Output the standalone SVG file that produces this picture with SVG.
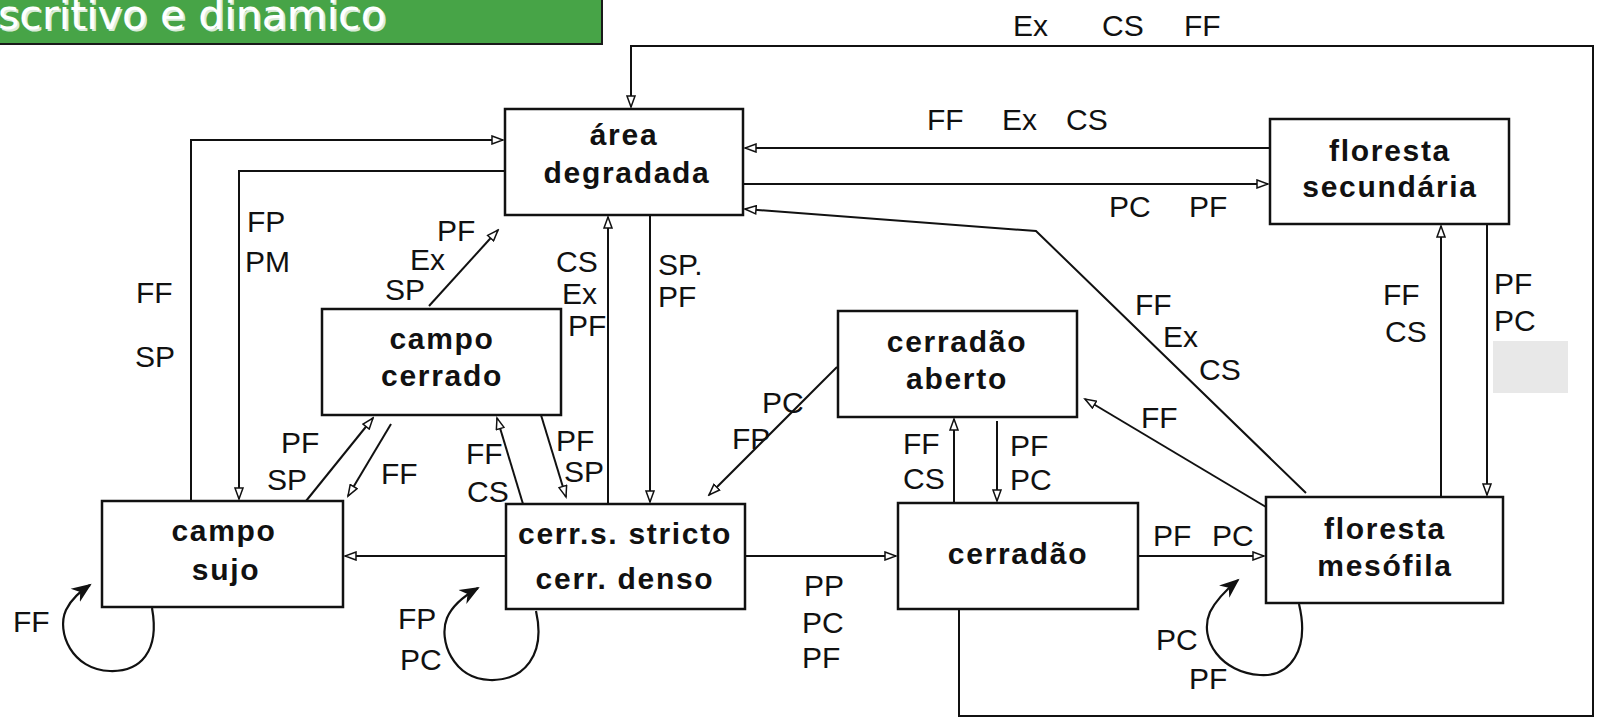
<svg xmlns="http://www.w3.org/2000/svg" width="1600" height="718" viewBox="0 0 1600 718">
<defs>
<style>
.node rect{fill:#fff;stroke:#111;stroke-width:2.5}
.nt{font-family:"Liberation Sans",Arial,sans-serif;font-weight:bold;font-size:30px;letter-spacing:1.7px;fill:#111;text-anchor:middle}
.lb{font-family:"Liberation Sans",Arial,sans-serif;font-size:30px;fill:#111}
.c{fill:none;stroke:#111;stroke-width:2}
.a{marker-end:url(#ar)}
.lp{fill:none;stroke:#111;stroke-width:2.2;marker-end:url(#big)}
.title{font-family:"DejaVu Sans",Verdana,sans-serif;font-size:41px;fill:#fff}
</style>
<marker id="ar" markerUnits="userSpaceOnUse" markerWidth="14" markerHeight="10" refX="12" refY="5" orient="auto">
<path d="M1,1 L12,5 L1,9 z" fill="#fff" stroke="#111" stroke-width="1.5"/>
</marker>
<marker id="big" markerUnits="userSpaceOnUse" markerWidth="22" markerHeight="20" refX="18" refY="10" orient="auto">
<path d="M0,2 L20,10 L0,18 L6,10 z" fill="#111"/>
</marker>
</defs>
<rect width="1600" height="718" fill="#fff"/>
<g id="title">
<rect x="-3" y="-3" width="605" height="47" fill="#47a447" stroke="#1a1a1a" stroke-width="2"/>
<text class="title" x="-2" y="29" fill="#333" opacity="0.8" transform="translate(2,2)">scritivo e dinamico</text>
<text class="title" x="-2" y="29">scritivo e dinamico</text>
</g>
<rect id="gray-patch" x="1493" y="341" width="75" height="52" fill="#e8e8e8"/>
<g id="connectors">
<polyline class="c a" points="959,609 959,716 1593,716 1593,46 631,46 631,107"/>
<polyline class="c a" points="191,501 191,140 503,140"/>
<polyline class="c a" points="505,171 239,171 239,499"/>
<line class="c a" x1="429" y1="306" x2="498" y2="230"/>
<line class="c a" x1="608" y1="504" x2="608" y2="217"/>
<line class="c a" x1="650" y1="215" x2="650" y2="502"/>
<line class="c a" x1="1270" y1="148" x2="745" y2="148"/>
<line class="c a" x1="743" y1="184" x2="1268" y2="184"/>
<polyline class="c a" points="1306,493 1036,231 745,209"/>
<line class="c a" x1="1441" y1="497" x2="1441" y2="226"/>
<line class="c a" x1="1487" y1="224" x2="1487" y2="495"/>
<line class="c a" x1="306" y1="501" x2="373" y2="418"/>
<line class="c a" x1="391" y1="424" x2="348" y2="496"/>
<line class="c a" x1="523" y1="504" x2="497" y2="418"/>
<line class="c a" x1="541" y1="415" x2="566" y2="497"/>
<line class="c a" x1="837" y1="367" x2="709" y2="495"/>
<line class="c a" x1="1266" y1="507" x2="1085" y2="399"/>
<line class="c a" x1="954" y1="503" x2="954" y2="419"/>
<line class="c a" x1="997" y1="421" x2="997" y2="501"/>
<line class="c a" x1="506" y1="556" x2="345" y2="556"/>
<line class="c a" x1="745" y1="556" x2="896" y2="556"/>
<line class="c a" x1="1138" y1="556" x2="1264" y2="556"/>
<path class="lp" d="M152,608 C160,652 140,672 110,671 C72,670 56,632 66,610 C72,598 80,592 90,585"/>
<path class="lp" d="M536,611 C546,655 524,681 490,680 C453,679 438,640 447,618 C452,606 464,596 478,588"/>
<path class="lp" d="M1299,604 C1310,650 1290,677 1260,675 C1222,673 1198,640 1210,612 C1216,600 1226,590 1238,580"/>
</g>
<g id="labels">
<text class="lb" x="1013" y="36">Ex</text>
<text class="lb" x="1102" y="36">CS</text>
<text class="lb" x="1184" y="36">FF</text>
<text class="lb" x="927" y="130">FF</text>
<text class="lb" x="1002" y="130">Ex</text>
<text class="lb" x="1066" y="130">CS</text>
<text class="lb" x="1109" y="217">PC</text>
<text class="lb" x="1189" y="217">PF</text>
<text class="lb" x="247" y="232">FP</text>
<text class="lb" x="245" y="272">PM</text>
<text class="lb" x="136" y="303">FF</text>
<text class="lb" x="135" y="367">SP</text>
<text class="lb" x="437" y="241">PF</text>
<text class="lb" x="410" y="270">Ex</text>
<text class="lb" x="385" y="300">SP</text>
<text class="lb" x="556" y="272">CS</text>
<text class="lb" x="562" y="304">Ex</text>
<text class="lb" x="568" y="336">PF</text>
<text class="lb" x="658" y="275">SP.</text>
<text class="lb" x="658" y="307">PF</text>
<text class="lb" x="1135" y="315">FF</text>
<text class="lb" x="1163" y="347">Ex</text>
<text class="lb" x="1199" y="380">CS</text>
<text class="lb" x="1383" y="305">FF</text>
<text class="lb" x="1385" y="342">CS</text>
<text class="lb" x="1494" y="294">PF</text>
<text class="lb" x="1494" y="331">PC</text>
<text class="lb" x="762" y="413">PC</text>
<text class="lb" x="732" y="449">FP</text>
<text class="lb" x="1141" y="428">FF</text>
<text class="lb" x="903" y="454">FF</text>
<text class="lb" x="903" y="489">CS</text>
<text class="lb" x="1010" y="456">PF</text>
<text class="lb" x="1010" y="490">PC</text>
<text class="lb" x="281" y="453">PF</text>
<text class="lb" x="267" y="490">SP</text>
<text class="lb" x="381" y="484">FF</text>
<text class="lb" x="466" y="464">FF</text>
<text class="lb" x="467" y="502">CS</text>
<text class="lb" x="556" y="451">PF</text>
<text class="lb" x="564" y="482">SP</text>
<text class="lb" x="1153" y="546">PF</text>
<text class="lb" x="1212" y="546">PC</text>
<text class="lb" x="804" y="596">PP</text>
<text class="lb" x="802" y="633">PC</text>
<text class="lb" x="802" y="668">PF</text>
<text class="lb" x="13" y="632">FF</text>
<text class="lb" x="398" y="629">FP</text>
<text class="lb" x="400" y="670">PC</text>
<text class="lb" x="1156" y="650">PC</text>
<text class="lb" x="1189" y="689">PF</text>
</g>
<g id="area-degradada" class="node"><rect x="505" y="109" width="238" height="106"/><text class="nt" x="624" y="145">área</text><text class="nt" x="627" y="183">degradada</text></g>
<g id="floresta-secundaria" class="node"><rect x="1270" y="119" width="239" height="105"/><text class="nt" x="1390" y="161">floresta</text><text class="nt" x="1390" y="197">secundária</text></g>
<g id="campo-cerrado" class="node"><rect x="322" y="309" width="239" height="106"/><text class="nt" x="442" y="349">campo</text><text class="nt" x="442" y="386">cerrado</text></g>
<g id="cerradao-aberto" class="node"><rect x="838" y="311" width="239" height="106"/><text class="nt" x="957" y="352">cerradão</text><text class="nt" x="957" y="389">aberto</text></g>
<g id="campo-sujo" class="node"><rect x="102" y="501" width="241" height="106"/><text class="nt" x="224" y="541">campo</text><text class="nt" x="226" y="580">sujo</text></g>
<g id="cerr-stricto" class="node"><rect x="506" y="504" width="239" height="105"/><text class="nt" x="625" y="544">cerr.s. stricto</text><text class="nt" x="625" y="589">cerr. denso</text></g>
<g id="cerradao" class="node"><rect x="898" y="503" width="240" height="106"/><text class="nt" x="1018" y="564">cerradão</text></g>
<g id="floresta-mesofila" class="node"><rect x="1266" y="497" width="237" height="106"/><text class="nt" x="1385" y="539">floresta</text><text class="nt" x="1385" y="576">mesófila</text></g>
</svg>
